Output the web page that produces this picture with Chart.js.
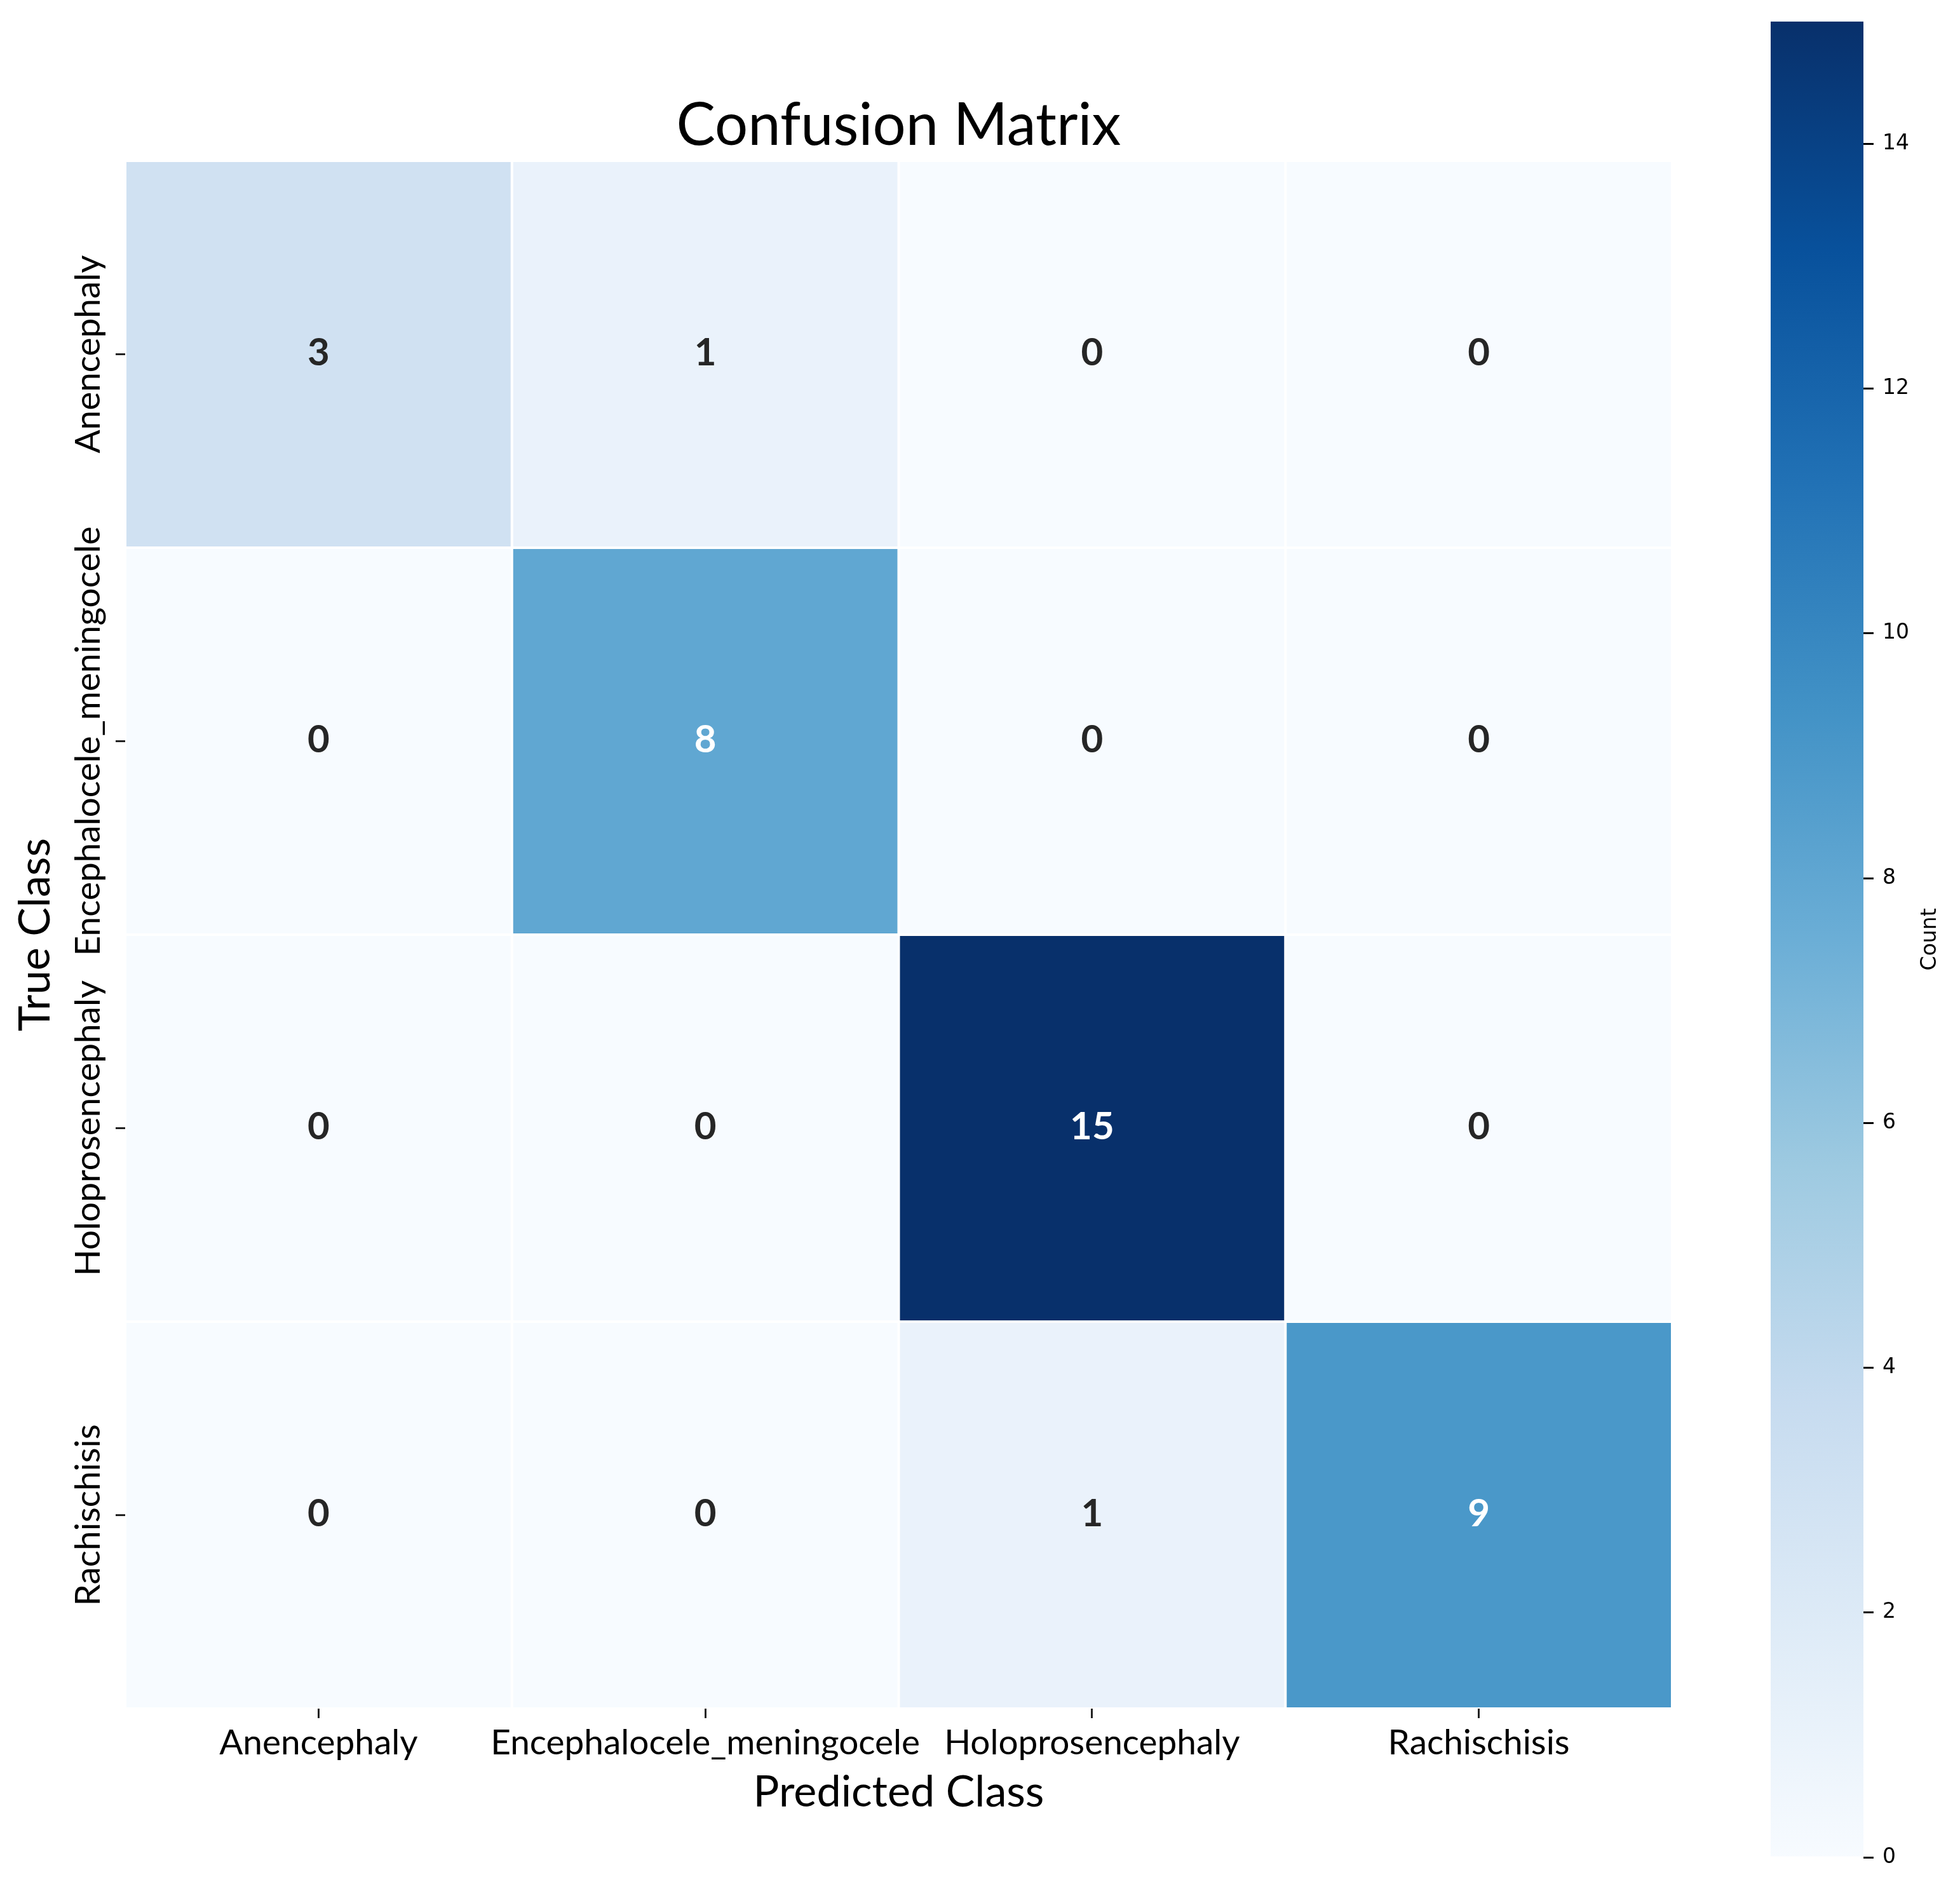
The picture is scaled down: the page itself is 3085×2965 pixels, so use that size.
<!DOCTYPE html>
<html><head><meta charset="utf-8">
<script src="https://cdn.jsdelivr.net/npm/chart.js@4.4.1/dist/chart.umd.min.js"></script>
<style>
html,body{margin:0;padding:0;background:#fff;}
#wrap{position:relative;width:3085px;height:2965px;overflow:hidden;background:#fff;}
#hm{position:absolute;left:0;top:0;}
#cb{position:absolute;left:2787px;top:0;}
</style></head><body>
<div id="wrap"><canvas id="hm" width="2700" height="2965"></canvas><canvas id="cb" width="298" height="2965"></canvas></div>
<script>
// ---- data ----
const trueClasses = ['Anencephaly', 'Encephalocele_meningocele', 'Holoprosencephaly', 'Rachischisis'];
const predictedClasses = ['Anencephaly', 'Encephalocele_meningocele', 'Holoprosencephaly', 'Rachischisis'];
const rowAnencephaly = [3, 1, 0, 0];
const rowEncephalocele = [0, 8, 0, 0];
const rowHoloprosencephaly = [0, 0, 15, 0];
const rowRachischisis = [0, 0, 1, 9];
const counts = [rowAnencephaly, rowEncephalocele, rowHoloprosencephaly, rowRachischisis];
const colorbarTicks = [0, 2, 4, 6, 8, 10, 12, 14];
const colorMin = 0, colorMax = 15;
const titleText = 'Confusion Matrix';
const xTitleText = 'Predicted Class';
const yTitleText = 'True Class';
const colorbarLabel = 'Count';

// ---- style ----
const FAMILY = 'Lato';
const CB_FAMILY = 'DejaVu Sans';
const BLUES = ['#f7fbff','#deebf7','#c6dbef','#9ecae1','#6baed6','#4292c6','#2171b5','#08519c','#08306b'];
function hexToRgb(h){ return [parseInt(h.slice(1,3),16), parseInt(h.slice(3,5),16), parseInt(h.slice(5,7),16)]; }
function bluesRgb(t){
  t = Math.max(0, Math.min(1, t));
  const p = t * (BLUES.length - 1);
  const i = Math.min(Math.floor(p), BLUES.length - 2);
  const f = p - i;
  const a = hexToRgb(BLUES[i]), b = hexToRgb(BLUES[i+1]);
  return a.map((c, k) => Math.round(c + (b[k] - c) * f));
}
function cellColor(v){ const c = bluesRgb((v - colorMin) / (colorMax - colorMin)); return `rgb(${c[0]},${c[1]},${c[2]})`; }
function textColorFor(v){
  const c = bluesRgb((v - colorMin) / (colorMax - colorMin)).map(x => { x /= 255; return x <= 0.03928 ? x / 12.92 : Math.pow((x + 0.055) / 1.055, 2.4); });
  const L = 0.2126 * c[0] + 0.7152 * c[1] + 0.0722 * c[2];
  return L > 0.408 ? '#262626' : '#ffffff';
}
const mctx = document.createElement('canvas').getContext('2d');
function fitSize(text, target, weight, family){ mctx.font = `${weight} 100px "${family}"`; return 100 * target / mctx.measureText(text).width; }

const titleSize = fitSize(titleText, 700, 'normal', FAMILY);
const axisTitleSize = fitSize(xTitleText, 458, 'normal', FAMILY);
const tickSize = fitSize('Encephalocele_meningocele', 676, 'normal', FAMILY);
const annotSize = 60;

// layout targets (pixels)
const AREA_TOP = 253, AREA_LEFT = 197, AREA_RIGHT = 2632, AREA_BOTTOM = 2689;
const CANVAS_W = 2700, CANVAS_H = 2965;
const CB_TOP = 32, CB_BOTTOM = 2923;

const datasets = trueClasses.map((tc, i) => ({
  label: tc,
  data: counts[i].map(() => [i, i + 1]),
  backgroundColor: counts[i].map(cellColor),
  borderColor: '#ffffff',
  borderWidth: 2,
  borderSkipped: false,
  inflateAmount: 0,
  barPercentage: 1,
  categoryPercentage: 1
}));

const yLabelPlugin = {
  id: 'yLabels',
  afterDraw(chart){
    const ys = chart.scales.y, ctx = chart.ctx;
    ctx.save();
    ctx.font = `normal ${tickSize}px "${FAMILY}"`;
    ctx.fillStyle = '#000';
    ctx.textAlign = 'center';
    ctx.textBaseline = 'middle';
    trueClasses.forEach((t, i) => {
      const y = ys.getPixelForValue(i + 0.5);
      ctx.save();
      ctx.translate(ys.right - 58, y);
      ctx.rotate(-Math.PI / 2);
      ctx.fillText(t, 0, 0);
      ctx.restore();
    });
    ctx.restore();
  }
};
const annotPlugin = {
  id: 'annot',
  afterDatasetsDraw(chart){
    const ctx = chart.ctx;
    ctx.save();
    ctx.font = `bold ${annotSize}px "${FAMILY}"`;
    ctx.textAlign = 'center';
    ctx.textBaseline = 'middle';
    chart.data.datasets.forEach((ds, i) => {
      chart.getDatasetMeta(i).data.forEach((bar, j) => {
        const v = counts[i][j];
        ctx.fillStyle = textColorFor(v);
        ctx.fillText(String(v), bar.x, (bar.y + bar.base) / 2 - 2);
      });
    });
    ctx.restore();
  }
};

new Chart(document.getElementById('hm'), {
  type: 'bar',
  data: { labels: predictedClasses, datasets },
  options: {
    responsive: false, devicePixelRatio: 1, animation: false,
    layout: { padding: { top: 0, left: 0, right: CANVAS_W - AREA_RIGHT, bottom: 0 } },
    plugins: {
      legend: { display: false },
      tooltip: { enabled: false },
      title: {
        display: true, text: titleText, fullSize: false, color: '#000',
        font: { family: FAMILY, size: titleSize, weight: 'normal', lineHeight: 1 },
        padding: { top: 198 - titleSize / 2, bottom: AREA_TOP - 198 - titleSize / 2 }
      }
    },
    scales: {
      x: {
        type: 'category', stacked: true, offset: true,
        grid: { display: true, offset: false, drawOnChartArea: false, drawTicks: true, tickLength: 15, color: '#222', lineWidth: 3 },
        border: { display: false },
        ticks: { font: { family: FAMILY, size: tickSize }, color: '#000', padding: 6, maxRotation: 0, minRotation: 0, autoSkip: false },
        title: { display: true, text: xTitleText, color: '#000', font: { family: FAMILY, size: axisTitleSize, lineHeight: 1.2 }, padding: { top: 0, bottom: CANVAS_H - 2821 - axisTitleSize * 0.6 } },
        afterFit(s){ s.height = CANVAS_H - AREA_BOTTOM; }
      },
      y: {
        type: 'linear', min: 0, max: 4, reverse: true, stacked: false,
        afterBuildTicks(s){ s.ticks = trueClasses.map((_, i) => ({ value: i + 0.5 })); },
        grid: { display: true, drawOnChartArea: false, drawTicks: true, tickLength: 15, color: '#222', lineWidth: 3 },
        border: { display: false },
        ticks: { display: false },
        title: { display: true, text: yTitleText, color: '#000', font: { family: FAMILY, size: axisTitleSize, lineHeight: 1.2 }, padding: { top: 56 - axisTitleSize * 0.6, bottom: 0 } },
        afterFit(s){ s.width = AREA_LEFT; }
      }
    }
  },
  plugins: [yLabelPlugin, annotPlugin]
});

const countLabelPlugin = {
  id: 'countLabel',
  afterDraw(chart){
    const a = chart.chartArea, ctx = chart.ctx;
    ctx.save();
    ctx.font = `normal 33px "${CB_FAMILY}"`;
    ctx.fillStyle = '#000';
    ctx.textAlign = 'center';
    ctx.textBaseline = 'middle';
    ctx.translate(251, (a.top + a.bottom) / 2);
    ctx.rotate(-Math.PI / 2);
    ctx.fillText(colorbarLabel, 0, 0);
    ctx.restore();
  }
};

new Chart(document.getElementById('cb'), {
  type: 'bar',
  data: { labels: [''], datasets: [{
    data: [[colorMin, colorMax]],
    backgroundColor(c){
      const a = c.chart.chartArea;
      if (!a) return BLUES[0];
      const g = c.chart.ctx.createLinearGradient(0, a.bottom, 0, a.top);
      BLUES.forEach((col, k) => g.addColorStop(k / (BLUES.length - 1), col));
      return g;
    },
    borderWidth: 0, barPercentage: 1, categoryPercentage: 1, inflateAmount: 0
  }] },
  options: {
    responsive: false, devicePixelRatio: 1, animation: false,
    layout: { padding: { top: CB_TOP, bottom: CANVAS_H - CB_BOTTOM, left: 0, right: 0 } },
    plugins: { legend: { display: false }, tooltip: { enabled: false } },
    scales: {
      x: { display: false },
      y: {
        position: 'right', min: colorMin, max: colorMax,
        afterBuildTicks(s){ s.ticks = colorbarTicks.map(v => ({ value: v })); },
        grid: { display: true, drawOnChartArea: false, drawTicks: true, tickLength: 16, color: '#000', lineWidth: 3 },
        border: { display: false },
        ticks: { font: { family: CB_FAMILY, size: 33 }, color: '#000', padding: 14 },
        afterFit(s){ s.width = 152; }
      }
    }
  },
  plugins: [countLabelPlugin]
});
</script>
</body></html>
